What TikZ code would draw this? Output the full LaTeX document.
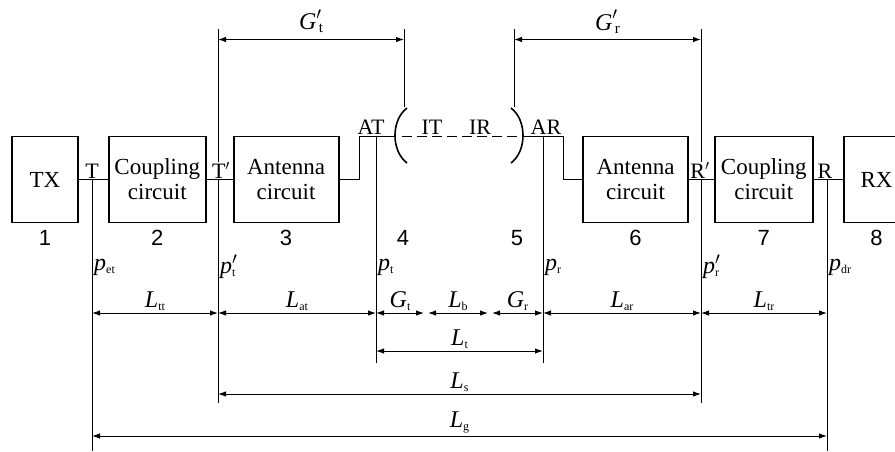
\documentclass[tikz,border=0pt]{standalone}
\usepackage{fontspec}
\setmainfont{Liberation Serif}
\newfontfamily\numfont{Liberation Sans}
\usetikzlibrary{arrows.meta,positioning}
\newcommand{\sym}[2]{\textit{#1}\raisebox{-3pt}{\fontsize{12}{12}\selectfont #2}}
\newcommand{\symp}[2]{\textit{#1}\rlap{$'$}\raisebox{-3pt}{\fontsize{12}{12}\selectfont #2}}
\newcommand{\symg}[2]{\textit{#1}\rlap{\raisebox{1pt}{$'$}}\raisebox{-3pt}{\fontsize{15}{15}\selectfont\,#2}}

\begin{document}
\begin{tikzpicture}[x=1pt, y=-1pt,
    block/.style={rectangle, draw, line width=1.8pt, minimum height=86pt, align=center, font=\fontsize{23}{25}\selectfont},
    num/.style={font=\numfont\fontsize{22}{22}\selectfont, inner sep=2pt},
    tag/.style={font=\fontsize{22}{22}\selectfont, inner sep=1pt},
    sym/.style={font=\fontsize{24}{24}\selectfont, inner sep=2pt},
    wire/.style={line width=1pt},
    paren/.style={line width=1.6pt},
    dim/.style={line width=1pt, {Latex[length=8pt,width=5.5pt]}-{Latex[length=8pt,width=5.5pt]}}
]
\useasboundingbox (0,0) rectangle (895,451);

% Transmitter side
\node[block, minimum width=66pt, label={[num, label distance=5pt]below:1}] (tx) at (45,179.5) {TX};
\node[block, right=29pt of tx, minimum width=97pt, label={[num, label distance=5pt]below:2}] (cpt) {Coupling\\circuit};
\node[block, right=26pt of cpt, minimum width=105pt, label={[num, label distance=5pt]below:3}] (ant) {Antenna\\circuit};

% Receiver side
\node[block, minimum width=105pt, label={[num, label distance=5pt]below:6}] (anr) at (635.5,179.5) {Antenna\\circuit};
\node[block, right=25pt of anr, minimum width=98pt, label={[num, label distance=5pt]below:7}] (cpr) {Coupling\\circuit};
\node[block, right=29pt of cpr, minimum width=66pt, label={[num, label distance=5pt]below:8}] (rx) {RX};
\node[num] (n4) at (403,238) {4};
\node[num] (n5) at (517,238) {5};

% reference planes and rows
\coordinate (t) at (92,179.5);
\coordinate (tp) at (218,179.5);
\coordinate (at) at (376,136);
\coordinate (ar) at (543,136);
\coordinate (rp) at (701,179.5);
\coordinate (r) at (827,179.5);
\coordinate (lp) at (395,136);
\coordinate (rpar) at (523,136);
\coordinate (lt) at (404,107);
\coordinate (rt) at (514,107);
\coordinate (top) at (0,29);
\coordinate (g) at (0,39.5);
\coordinate (r1) at (0,313);
\coordinate (r2) at (0,351);
\coordinate (r3) at (0,394);
\coordinate (r4) at (0,436);
\coordinate (e2) at (0,363);
\coordinate (e3) at (0,403);
\coordinate (e4) at (0,451);
\coordinate (m1) at (426,313);
\coordinate (m2) at (490,313);

% wires
\draw[wire] (tx) -- (cpt);
\draw[wire] (cpt) -- (ant);
\draw[wire] (ant.east) -- ++(20,0) |- (lp);
\draw[wire] (rpar) -- ++(40,0) |- (anr.west);
\draw[wire] (anr) -- (cpr);
\draw[wire] (cpr) -- (rx);
\draw[wire, dash pattern=on 10pt off 5pt] ([xshift=7pt]lp) -- ([xshift=-5pt]rpar);
\draw[paren] (407,108) .. controls (391,120) and (391,151) .. (407,163);
\draw[paren] (511,108) .. controls (527,120) and (527,151) .. (511,163);
\node[tag, above] (it) at (432,136) {IT};
\node[tag, above] (ir) at (480,136) {IR};

% vertical lines
\draw[wire] (t) -- (t |- e4);
\draw[wire] (r) -- (r |- e4);
\draw[wire] (tp |- top) -- (tp |- e3);
\draw[wire] (rp |- top) -- (rp |- e3);
\draw[wire] (at) -- (at |- e2);
\draw[wire] (ar) -- (ar |- e2);
\draw[wire] (lt |- top) -- (lt);
\draw[wire] (rt |- top) -- (rt);

% port labels
\node[tag, above] (lt1) at (t) {T};
\node[tag, above, fill=white] (lt2) at ([xshift=3pt]tp) {T$'$};
\node[tag, above] (lat) at (371,136) {AT};
\node[tag, above] (lar) at (546,136) {AR};
\node[tag, above, fill=white] (lr2) at ([xshift=-1pt]rp) {R$'$};
\node[tag, above] (lr1) at ([xshift=-2pt]r) {R};

% powers
\node[sym, anchor=west] (pet) at (t |- 0,267) {\sym{p}{et}};
\node[sym, anchor=west] (ptp) at (tp |- 0,267) {\symp{p}{t}};
\node[sym, anchor=west] (pt) at (at |- 0,267) {\sym{p}{t}};
\node[sym, anchor=west] (pr) at (ar |- 0,267) {\sym{p}{r}};
\node[sym, anchor=west] (prp) at (rp |- 0,267) {\symp{p}{r}};
\node[sym, anchor=west] (pdr) at (r |- 0,267) {\sym{p}{dr}};

% dimensions
\draw[dim] (tp |- g) -- (lt |- g) node[midway, above, sym, yshift=4pt] {\symg{G}{t}};
\draw[dim] (rt |- g) -- (rp |- g) node[midway, above, sym, yshift=4pt] {\symg{G}{r}};
\draw[dim] (t |- r1) -- (tp |- r1) node[midway, above, sym] {\sym{L}{tt}};
\draw[dim] (tp |- r1) -- (at |- r1) node[midway, above, sym] {\sym{L}{at}};
\draw[dim] (at |- r1) -- ([xshift=-2pt]m1) node[midway, above, sym] {\sym{G}{t}};
\draw[dim] ([xshift=2pt]m1) -- ([xshift=-2pt]m2) node[midway, above, sym] {\sym{L}{b}};
\draw[dim] ([xshift=2pt]m2) -- (ar |- r1) node[midway, above, sym] {\sym{G}{r}};
\draw[dim] (ar |- r1) -- (rp |- r1) node[midway, above, sym] {\sym{L}{ar}};
\draw[dim] (rp |- r1) -- (r |- r1) node[midway, above, sym] {\sym{L}{tr}};
\draw[dim] (at |- r2) -- (ar |- r2) node[midway, above, sym] {\sym{L}{t}};
\draw[dim] (tp |- r3) -- (rp |- r3) node[midway, above, sym] {\sym{L}{s}};
\draw[dim] (t |- r4) -- (r |- r4) node[midway, above, sym] {\sym{L}{g}};

\end{tikzpicture}
\end{document}
